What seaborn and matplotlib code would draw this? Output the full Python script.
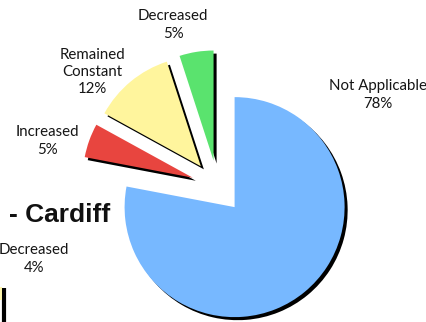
import matplotlib
matplotlib.use("Agg")
import matplotlib.pyplot as plt
import seaborn as sns

# Change in pay level responses
categories = ["Not Applicable", "Increased", "Remained\nConstant", "Decreased"]
shares = [78, 5, 12, 5]
colors = ["#77B8FF", "#E8453F", "#FFF59D", "#5AE36E"]
exploded = [26.5, 26.5, 26.5, 26.5]

# label anchor points (pixel space, origin bottom-left)
label_pos = [(378, 227), (47, 181), (92, 250), (173, 297)]

# neighbouring panel pieces visible at the left edge
side_title = "- Cardiff"
side_label = ("Decreased", 4)

sns.set_theme(style="white")
plt.rcParams["font.family"] = ["Lato", "DejaVu Sans"]

W, H = 427, 322
fig = plt.figure(figsize=(W / 100, H / 100), dpi=100)
ax = fig.add_axes([0, 0, 1, 1])

ax.pie(
    shares,
    colors=colors,
    explode=exploded,
    startangle=90,
    counterclock=False,
    center=(217.7, 135.3),
    radius=110,
    shadow={"ox": 2.2, "oy": -2.2, "shade": 1.0, "alpha": 1.0},
    wedgeprops={"linewidth": 0},
)

for name, val, (x, y) in zip(categories, shares, label_pos):
    ax.text(x, y, f"{name}\n{val}%", ha="center", va="center",
            fontsize=10.8, color="#151515", linespacing=1.3)

ax.text(110, 100, side_title, ha="right", va="baseline",
        fontsize=19, fontweight="bold", family=["Liberation Sans", "DejaVu Sans"],
        color="#111111")
ax.text(34, 63, f"{side_label[0]}\n{side_label[1]}%", ha="center", va="center",
        fontsize=10.8, color="#151515", linespacing=1.3)
ax.plot([4.5, 4.5], [0, 34], color="black", lw=3, solid_capstyle="butt")
ax.plot([1.5, 1.5], [22, 35], color="#FFF59D", lw=1.2, solid_capstyle="butt")

ax.set_xlim(0, W)
ax.set_ylim(0, H)
ax.set_aspect("auto")
ax.axis("off")

fig.savefig("out.png", dpi=100)
